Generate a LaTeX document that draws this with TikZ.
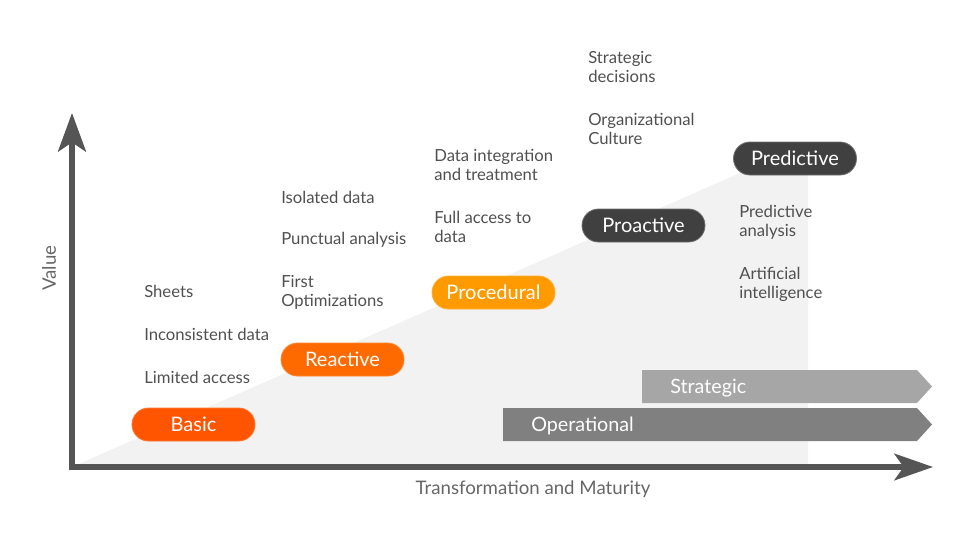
\documentclass[tikz,border=0pt]{standalone}
\usepackage{fontspec}
\setmainfont{Lato}
\usetikzlibrary{arrows.meta}
\definecolor{txt}{HTML}{505050}
\definecolor{axisc}{HTML}{555555}
\definecolor{area}{HTML}{F2F2F2}
\definecolor{cbasic}{HTML}{FF5500}
\definecolor{creact}{HTML}{FF6A00}
\definecolor{cproc}{HTML}{FF9A00}
\definecolor{cdark}{HTML}{404040}
\definecolor{cstrat}{HTML}{A6A6A6}
\definecolor{coper}{HTML}{808080}
\tikzset{
  pill/.style={rectangle, rounded corners=12.3pt, minimum width=92.25pt, minimum height=24.75pt,
    inner sep=0pt, text=white, font=\fontsize{15}{17}\selectfont, line width=0.6pt},
  item/.style={anchor=west, inner sep=0pt, align=left, text=txt, font=\fontsize{12.5}{14.25}\selectfont},
  bartext/.style={anchor=base west, inner sep=0pt, text=white, font=\fontsize{14.8}{17}\selectfont},
  axlabel/.style={inner sep=0pt, text=axisc!90!white, font=\fontsize{14}{16}\selectfont},
}
\begin{document}
\begin{tikzpicture}[x=0.75pt,y=-0.75pt]
\useasboundingbox (0,0) rectangle (960,540);
% gray area
\coordinate (o) at (72,467);
\coordinate (atop) at (808,143);
\coordinate (abot) at (808,467);
\fill[area] (o) -- (atop) -- (abot) -- cycle;
% banners
\coordinate (s1) at (642,370); \coordinate (s2) at (917,370); \coordinate (s3) at (932,386.5);
\coordinate (s4) at (917,403); \coordinate (s5) at (642,403);
\fill[cstrat] (s1) -- (s2) -- (s3) -- (s4) -- (s5) -- cycle;
\coordinate (p1) at (503,408); \coordinate (p2) at (917,408); \coordinate (p3) at (932,424.5);
\coordinate (p4) at (917,441); \coordinate (p5) at (503,441);
\fill[coper] (p1) -- (p2) -- (p3) -- (p4) -- (p5) -- cycle;
\node[bartext] (strat) at (670,393) {Strategic};
\node[bartext] (oper) at (531,431) {Operational};
% axes
\coordinate (ytip) at (72,113);
\coordinate (xtip) at (933,467);
\draw[axisc, line width=3.8pt, line join=miter,
  {Stealth[length=29pt,width=21pt,inset=7pt]}-{Stealth[length=29pt,width=20pt,inset=7pt]}]
  (ytip) -- (o) -- (xtip);
\node[axlabel, rotate=90] (val) at (49,268) {Value};
\node[axlabel] (tm) at (533,489) {Transformation and Maturity};
% pills
\node[pill, fill=cbasic, draw=cbasic!80!white] (basic) at (193.5,424.5) {Basic};
\node[pill, fill=creact, draw=creact!80!white] (react) at (342.5,359.5) {Reactive};
\node[pill, fill=cproc, draw=cproc!80!white] (proc) at (493.5,292.5) {Procedural};
\node[pill, fill=cdark, draw=cdark!75!white] (proa) at (643.5,225.5) {Proactive};
\node[pill, fill=cdark, draw=cdark!75!white] (pred) at (795,158.5) {Predictive};
% items
\node[item] (t1) at (144,291) {Sheets};
\node[item] (t2) at (144,334) {Inconsistent data};
\node[item] (t3) at (144,377) {Limited access};
\node[item] (t4) at (281,197) {Isolated data};
\node[item] (t5) at (281,240) {Punctual analysis};
\node[item] (t6) at (281,292.5) {First\\Optimizations};
\node[item] (t7) at (434,164.5) {Data integration\\and treatment};
\node[item] (t8) at (434,226.5) {Full access to\\data};
\node[item] (t9) at (588,66.5) {Strategic\\decisions};
\node[item] (t10) at (588,128.5) {Organizational\\Culture};
\node[item] (t11) at (739,222.5) {Predictive\\analysis};
\node[item] (t12) at (739,284.5) {Artificial\\intelligence};
\end{tikzpicture}
\end{document}
